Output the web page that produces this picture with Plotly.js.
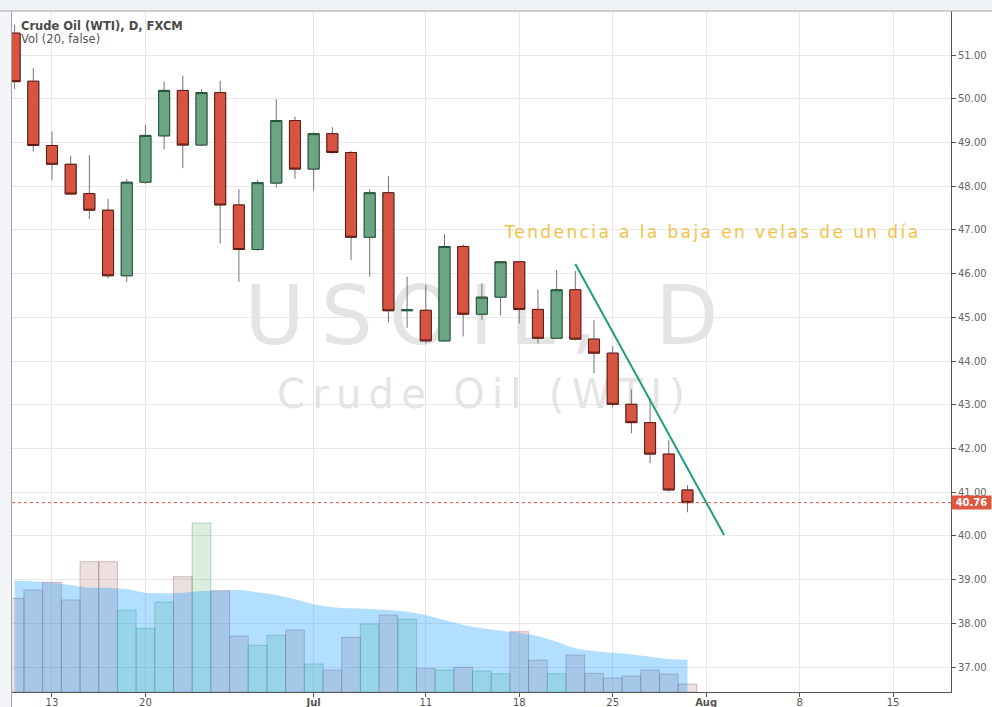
<!DOCTYPE html>
<html><head><meta charset="utf-8">
<script src="https://cdn.plot.ly/plotly-3.0.1.min.js"></script>
<style>
html,body{margin:0;padding:0;background:#fff;}
#chart{width:992px;height:707px;}
.scatterlayer .trace:nth-child(1) .textpoint text{letter-spacing:16px;}
.scatterlayer .trace:nth-child(2) .textpoint text{letter-spacing:7.3px;}
g.annotation[data-index="2"] text{letter-spacing:2.4px;}
</style></head><body><div id="chart"></div>
<script>
// ---- data ----
const dates = ['2016-06-09','2016-06-10','2016-06-13','2016-06-14','2016-06-15','2016-06-16','2016-06-17',
  '2016-06-20','2016-06-21','2016-06-22','2016-06-23','2016-06-24','2016-06-27','2016-06-28','2016-06-29',
  '2016-06-30','2016-07-01','2016-07-04','2016-07-05','2016-07-06','2016-07-07','2016-07-08','2016-07-11',
  '2016-07-12','2016-07-13','2016-07-14','2016-07-15','2016-07-18','2016-07-19','2016-07-20','2016-07-21',
  '2016-07-22','2016-07-25','2016-07-26','2016-07-27','2016-07-28','2016-07-29'];
const openP  = [51.50,50.40,48.93,48.50,47.83,47.45,45.95,48.09,49.15,50.19,48.94,50.14,47.57,46.55,48.07,49.50,48.39,49.20,48.77,46.83,47.85,45.15,45.16,44.46,46.62,45.07,45.46,46.27,45.18,44.52,45.63,44.50,44.18,43.01,42.59,41.87,41.05];
const highP  = [51.69,50.70,49.25,48.69,48.71,47.71,48.16,49.40,50.39,50.53,50.22,50.41,47.93,48.14,49.99,49.59,49.23,49.35,48.80,47.93,48.23,45.93,45.74,46.90,46.67,45.78,46.29,46.29,45.64,46.08,46.06,44.94,44.34,43.35,43.15,42.19,41.16];
const lowP   = [50.22,48.79,48.14,47.80,47.25,45.89,45.81,48.05,48.84,48.41,48.92,46.69,45.81,46.52,47.97,48.17,47.90,48.74,46.31,45.93,44.88,44.76,44.40,44.44,44.56,44.94,45.04,44.86,44.40,44.50,44.47,43.72,42.95,42.35,41.66,41.01,40.54];
const closeP = [50.39,48.93,48.50,47.82,47.45,45.95,48.09,49.16,50.19,48.94,50.14,47.57,46.55,48.08,49.50,48.39,49.20,48.77,46.83,47.85,45.15,45.17,44.46,46.62,45.07,45.46,46.27,45.18,44.52,45.63,44.50,44.18,43.01,42.59,41.87,41.05,40.76];
const volume = [93.7,102,109.7,92,130.3,130.3,82,63.7,90,115.3,169,101.3,56,46.7,56.7,62,28,22,54.7,68,77,72.7,23.7,22,24.7,21,18.3,60.3,32,18.3,37,18.7,14,16,22,18,8];
const volMA  = [111.5,110.5,109.3,107,104.3,104.3,103,99.3,98.7,99.3,101,101.3,102,99.7,97,92.7,87.7,84.7,83.7,83,82,80.3,77,72,67,63.7,61.3,59.3,56,50.3,43.7,41,39.3,37.7,35.3,33,32.3];
const tickDates = ['2016-06-13','2016-06-20','2016-07-01','2016-07-11','2016-07-18','2016-07-25','2016-08-01','2016-08-08','2016-08-15'];
const tickText  = ['13','20','<b>Jul</b>','11','18','25','<b>Aug</b>','8','15'];
const priceTicks = [37,38,39,40,41,42,43,44,45,46,47,48,49,50,51];
const trendIdx = [30, 37.96];
const trendY   = [46.22, 40.02];
const chartTitle = 'Crude Oil (WTI), D, FXCM';
const volTitle = 'Vol (20, false)';
const note = 'Tendencia a la baja en velas de un día';

// ---- helpers ----
function barIndex(ds){
  const start = Date.UTC(2016,5,9), t = Date.parse(ds+'T00:00:00Z');
  let n = 0;
  for(let d=start; d<t; d+=864e5){ const w=new Date(d).getUTCDay(); if(w!==0 && w!==6) n++; }
  return n;
}
const xs = dates.map(barIndex);
const tickVals = tickDates.map(barIndex);
const up = closeP.map((c,i)=>c>=openP[i]);
const bodyHi = closeP.map((c,i)=>Math.max(c,openP[i]));
const bodyLo = closeP.map((c,i)=>Math.min(c,openP[i]));
const lastClose = closeP[closeP.length-1];

const W=992,H=707,L=12,R=41,T=11,B=15;
const pw=W-L-R, ph=H-T-B;
const xRange=[-0.139, 50.10];
const yRange=[36.428, 52.0065];
const pxX = px => xRange[0] + (px-L)/pw*(xRange[1]-xRange[0]);
const pxY = py => yRange[1] - (py-T)/ph*(yRange[1]-yRange[0]);
const F='DejaVu Sans';

const data = [
  {type:'scatter', mode:'text', x:[pxX(489.5)], y:[pxY(323)], text:['USOIL, D'], textposition:'middle center',
   textfont:{family:F, size:82, color:'#e4e4e4'}, hoverinfo:'skip', xaxis:'x', yaxis:'y'},
  {type:'scatter', mode:'text', x:[pxX(484.6)], y:[pxY(397.5)], text:['Crude Oil (WTI)'], textposition:'middle center',
   textfont:{family:F, size:40, color:'#e4e4e4'}, hoverinfo:'skip', xaxis:'x', yaxis:'y'},
  {type:'bar', x:xs, y:volume, width:1, xaxis:'x', yaxis:'y2', hoverinfo:'skip',
   marker:{color:up.map(u=>u?'rgba(80,170,100,0.2)':'rgba(150,80,80,0.18)'),
           line:{color:up.map(u=>u?'rgba(70,150,90,0.35)':'rgba(160,80,80,0.35)'), width:1}}},
  {type:'scatter', mode:'lines', x:xs, y:volMA, xaxis:'x', yaxis:'y2', fill:'tozeroy',
   fillcolor:'rgba(0,150,255,0.3)', line:{width:0, shape:'spline'}, hoverinfo:'skip'},
  {type:'candlestick', x:xs, open:openP, high:highP, low:lowP, close:closeP, xaxis:'x', yaxis:'y3',
   whiskerwidth:0, hoverinfo:'skip',
   increasing:{line:{color:'#737375', width:1}, fillcolor:'rgba(0,0,0,0)'},
   decreasing:{line:{color:'#737375', width:1}, fillcolor:'rgba(0,0,0,0)'}},
  {type:'candlestick', x:xs, open:openP, high:bodyHi, low:bodyLo, close:closeP, xaxis:'x', yaxis:'y3',
   whiskerwidth:0, hoverinfo:'skip',
   increasing:{line:{color:'#225437', width:1}, fillcolor:'#6ba583'},
   decreasing:{line:{color:'#5b1a13', width:1}, fillcolor:'#d75442'}},
  {type:'scatter', mode:'lines', x:trendIdx, y:trendY, xaxis:'x', yaxis:'y3',
   line:{color:'#1f9d80', width:2}, hoverinfo:'skip'}
];

const layout = {
  width:W, height:H, margin:{l:L, r:R, t:T, b:B, pad:0},
  paper_bgcolor:'#ffffff', plot_bgcolor:'#ffffff', showlegend:false,
  font:{family:F, color:'#555', size:10},
  barmode:'overlay', bargap:0, boxmode:'overlay', boxgap:0.41, boxgroupgap:0,
  xaxis:{range:xRange, tickmode:'array', tickvals:tickVals, ticktext:tickText,
    showgrid:true, gridcolor:'#e8e8e8', gridwidth:1, showline:true, linecolor:'#555', linewidth:1,
    ticks:'outside', ticklen:4, tickcolor:'#555', tickfont:{family:F, size:10, color:'#555'},
    ticklabelstandoff:-3,
    zeroline:false, rangeslider:{visible:false}, fixedrange:true},
  yaxis:{range:yRange, side:'right', tickmode:'array', tickvals:priceTicks,
    ticktext:priceTicks.map(v=>v.toFixed(2)), showgrid:true, gridcolor:'#e8e8e8', gridwidth:1,
    showline:true, linecolor:'#555', linewidth:1, ticks:'outside', ticklen:4, tickcolor:'#555',
    tickfont:{family:F, size:10, color:'#666'}, zeroline:false, fixedrange:true},
  yaxis2:{overlaying:'y', range:[0, ph], visible:false, fixedrange:true},
  yaxis3:{overlaying:'y', range:yRange, visible:false, fixedrange:true},
  shapes:[
    {type:'rect', xref:'paper', yref:'paper', x0:-L/pw, x1:1+R/pw, y0:1, y1:1+T/ph, fillcolor:'#eef2f7', line:{width:0}},
    {type:'rect', xref:'paper', yref:'paper', x0:-L/pw, x1:-1/pw, y0:-B/ph, y1:1, fillcolor:'#f3f5f8', line:{width:0}},
    {type:'line', xref:'paper', yref:'paper', x0:-L/pw, x1:1+R/pw, y0:1, y1:1, line:{color:'#a5a5a5', width:1}},
    {type:'line', xref:'paper', yref:'paper', x0:-0.5/pw, x1:-0.5/pw, y0:-B/ph, y1:1, line:{color:'#a5a5a5', width:1}},
    {type:'line', xref:'paper', yref:'y', x0:0, x1:1, y0:lastClose, y1:lastClose, line:{color:'#e0533f', width:1, dash:'dot'}}
  ],
  annotations:[
    {xref:'paper', yref:'paper', x:(18.5-L)/pw, y:(H-B-25.5)/ph, xanchor:'left', yanchor:'middle', showarrow:false,
     text:'<b>'+chartTitle+'</b>', font:{family:F, size:11.5, color:'#4a4a4a'}},
    {xref:'paper', yref:'paper', x:(18.5-L)/pw, y:(H-B-39.5)/ph, xanchor:'left', yanchor:'middle', showarrow:false,
     text:volTitle, font:{family:F, size:11.5, color:'#555'}},
    {xref:'paper', yref:'paper', x:(712.2-L)/pw, y:(H-B-232)/ph, xanchor:'center', yanchor:'middle', showarrow:false,
     text:note, font:{family:F, size:17, color:'#f2c247'}},
    {xref:'paper', yref:'y', x:1, y:lastClose, xanchor:'left', yanchor:'middle', showarrow:false,
     text:'<b>'+lastClose.toFixed(2)+'</b>', bgcolor:'#df5640', borderpad:1, width:37, height:11,
     font:{family:F, size:10, color:'#ffffff'}}
  ]
};

Plotly.newPlot('chart', data, layout, {displayModeBar:false, staticPlot:true});
</script></body></html>
